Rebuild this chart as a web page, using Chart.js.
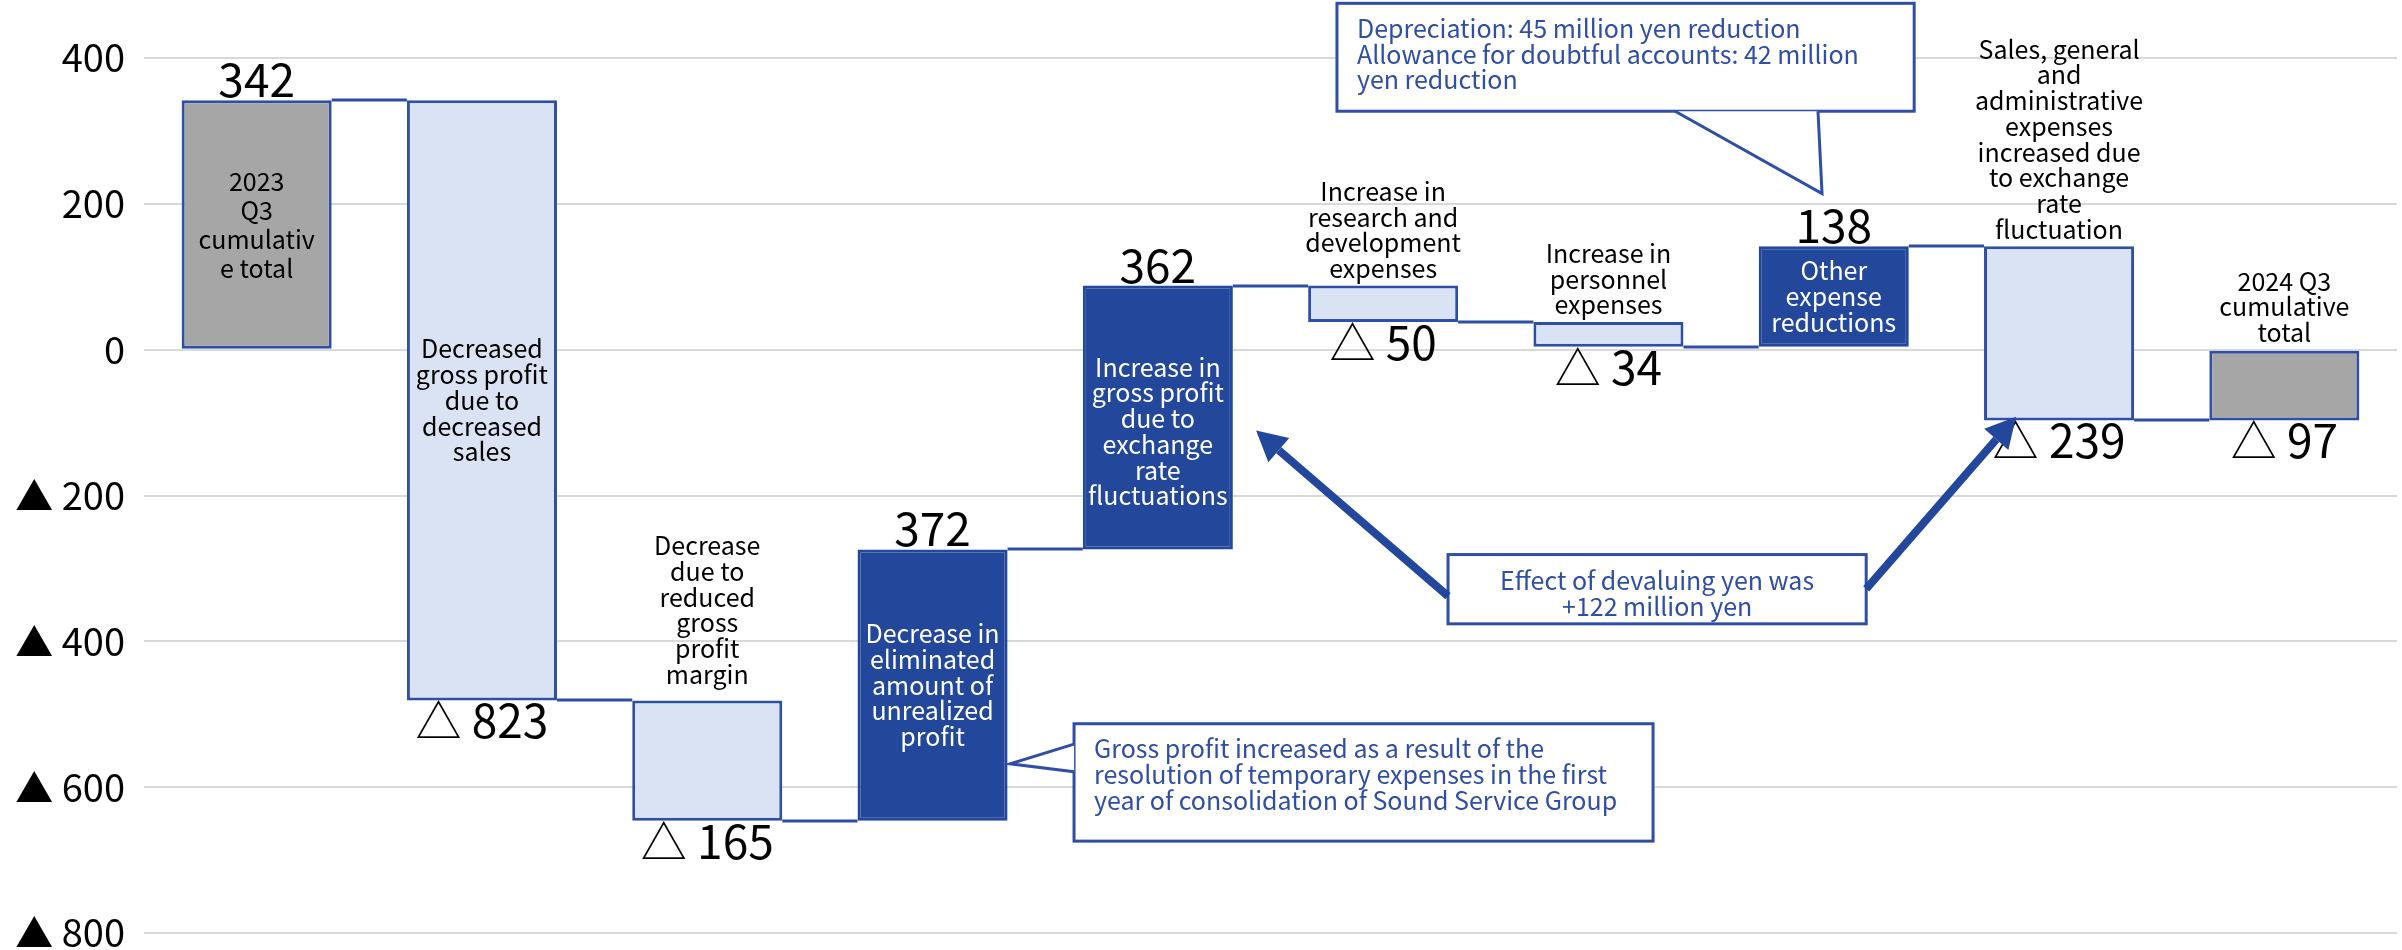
<!DOCTYPE html>
<html lang="en">
<head>
<meta charset="UTF-8">
<title>Operating profit bridge</title>
<script src="https://cdn.jsdelivr.net/npm/chart.js@4"></script>
<style>
    html, body { margin: 0; padding: 0; background: #ffffff; overflow: hidden; }
    .chart-container { position: relative; width: 2402px; height: 950px; }
    canvas { display: block; }
</style>
</head>
<body>
<div class="chart-container">
    <canvas id="bridgeChart"></canvas>
</div>
<script>
// bar captions, one entry per line
const categories = [
    ['2023', 'Q3', 'cumulativ', 'e total'],
    ['Decreased', 'gross profit', 'due to', 'decreased', 'sales'],
    ['Decrease', 'due to', 'reduced', 'gross', 'profit', 'margin'],
    ['Decrease in', 'eliminated', 'amount of', 'unrealized', 'profit'],
    ['Increase in', 'gross profit', 'due to', 'exchange', 'rate', 'fluctuations'],
    ['Increase in', 'research and', 'development', 'expenses'],
    ['Increase in', 'personnel', 'expenses'],
    ['Other', 'expense', 'reductions'],
    ['Sales, general', 'and', 'administrative', 'expenses', 'increased due', 'to exchange', 'rate', 'fluctuation'],
    ['2024 Q3', 'cumulative', 'total']
];
const captionPlace = ['in', 'in', 'above', 'in', 'in', 'above', 'above', 'in', 'above', 'above'];

// million yen
const changes = [342, -823, -165, 372, 362, -50, -34, 138, -239, -97];
const kinds = ['total', 'step', 'step', 'step', 'step', 'step', 'step', 'step', 'step', 'total'];

const yMin = -800;
const yMax = 400;
const yStep = 200;

const FONT = '"Noto Sans CJK JP", "Noto Sans", sans-serif';
const BLUE_LINE = '#2f4ea6';
const BLUE_DARK = '#22479b';
const BLUE_LIGHT = '#dae3f3';
const GREY = '#a6a6a6';

// floating [from, to] ranges for the waterfall
let running = 0;
const ranges = changes.map((v, i) => {
    if (kinds[i] === 'total') { running = v; return [0, v]; }
    const from = running;
    running += v;
    return [from, running];
});

const fillColors = changes.map((v, i) => kinds[i] === 'total' ? GREY : (v < 0 ? BLUE_LIGHT : BLUE_DARK));
const edgeColors = changes.map((v, i) => (kinds[i] === 'step' && v > 0) ? BLUE_DARK : BLUE_LINE);

function fmt(v) {
    return v < 0 ? '\u25B3 ' + (-v) : String(v);
}

// callouts, x in category units, y in million yen
const notes = [
    {
        box: [4.795, 475, 7.357, 327],
        pointer: [[6.296, 327], [6.948, 214], [6.93, 327]],
        lines: ['Depreciation: 45 million yen reduction', 'Allowance for doubtful accounts: 42 million', 'yen reduction'],
        align: 'left'
    },
    {
        box: [5.288, -281, 7.144, -376],
        lines: ['Effect of devaluing yen was', '+122 million yen'],
        align: 'center'
    },
    {
        box: [3.628, -513, 6.198, -674],
        pointer: [[3.628, -541], [3.344, -568], [3.628, -579]],
        lines: ['Gross profit increased as a result of the', 'resolution of temporary expenses in the first', 'year of consolidation of Sound Service Group'],
        align: 'left'
    }
];
const arrows = [
    [[5.288, -338], [4.436, -111]],
    [[7.144, -328], [7.809, -92]]
];

const bridgePlugin = {
    id: 'bridge',
    afterDatasetsDraw(chart) {
        const ctx = chart.ctx;
        const meta = chart.getDatasetMeta(0);
        const xs = chart.scales.x;
        const ys = chart.scales.y;
        const x0 = xs.getPixelForValue(0);
        const stepX = xs.getPixelForValue(1) - x0;
        const px = v => x0 + v * stepX;
        const py = v => ys.getPixelForValue(v);

        ctx.save();
        // connectors
        ctx.strokeStyle = BLUE_LINE;
        ctx.lineWidth = 3;
        for (let i = 0; i < meta.data.length - 1; i++) {
            const a = meta.data[i], b = meta.data[i + 1];
            const y = Math.round(py(ranges[i][1]));
            ctx.beginPath();
            ctx.moveTo(a.x + a.width / 2, y);
            ctx.lineTo(b.x - b.width / 2, y);
            ctx.stroke();
        }

        // value labels
        ctx.fillStyle = '#000';
        ctx.textAlign = 'center';
        ctx.textBaseline = 'alphabetic';
        ctx.font = '46px ' + FONT;
        meta.data.forEach((bar, i) => {
            const v = changes[i];
            const top = py(Math.max(ranges[i][0], ranges[i][1]));
            const bottom = py(Math.min(ranges[i][0], ranges[i][1]));
            if (v >= 0) {
                ctx.fillText(fmt(v), bar.x, top - 3);
            } else {
                ctx.fillText(fmt(v), bar.x, bottom + 38);
            }
        });

        // captions
        ctx.font = '25px ' + FONT;
        ctx.textBaseline = 'middle';
        meta.data.forEach((bar, i) => {
            const lines = categories[i];
            const lh = i === 0 ? 28.8 : 25.7;
            const top = py(Math.max(ranges[i][0], ranges[i][1]));
            const bottom = py(Math.min(ranges[i][0], ranges[i][1]));
            let firstY;
            if (captionPlace[i] === 'in') {
                const mid = (top + bottom) / 2 + (i === 4 ? 14 : 0);
                firstY = mid - (lines.length - 1) * lh / 2;
                ctx.fillStyle = (kinds[i] === 'step' && changes[i] > 0) ? '#ffffff' : '#000000';
            } else {
                const gap = i === 2 ? 26 : 17;
                firstY = top - gap - (lines.length - 1) * lh;
                ctx.fillStyle = '#000000';
            }
            lines.forEach((t, k) => ctx.fillText(t, bar.x, firstY + k * lh));
        });

        // callout boxes
        ctx.lineWidth = 3;
        ctx.strokeStyle = BLUE_LINE;
        notes.forEach(n => {
            const l = px(n.box[0]), t = py(n.box[1]), r = px(n.box[2]), b = py(n.box[3]);
            ctx.fillStyle = '#ffffff';
            ctx.fillRect(l, t, r - l, b - t);
            ctx.strokeRect(l, t, r - l, b - t);
            if (n.pointer) {
                const p = n.pointer.map(q => [px(q[0]), py(q[1])]);
                ctx.beginPath();
                ctx.moveTo(p[0][0], p[0][1]);
                ctx.lineTo(p[1][0], p[1][1]);
                ctx.lineTo(p[2][0], p[2][1]);
                ctx.fill();
                ctx.stroke();
            }
            ctx.fillStyle = BLUE_LINE;
            ctx.font = '25px ' + FONT;
            ctx.textBaseline = 'middle';
            ctx.textAlign = n.align;
            const tx = n.align === 'center' ? (l + r) / 2 : l + 20;
            const ty = n.align === 'center' ? t + 26 : t + 25;
            n.lines.forEach((s, k) => ctx.fillText(s, tx, ty + k * 25.8));
        });

        // arrows
        ctx.strokeStyle = BLUE_DARK;
        ctx.fillStyle = BLUE_DARK;
        ctx.lineWidth = 8;
        arrows.forEach(a => {
            const x1 = px(a[0][0]), y1 = py(a[0][1]);
            const x2 = px(a[1][0]), y2 = py(a[1][1]);
            const ang = Math.atan2(y2 - y1, x2 - x1);
            const len = 30, half = 16;
            const bx = x2 - len * Math.cos(ang), by = y2 - len * Math.sin(ang);
            ctx.beginPath();
            ctx.moveTo(x1, y1);
            ctx.lineTo(bx, by);
            ctx.stroke();
            ctx.beginPath();
            ctx.moveTo(x2, y2);
            ctx.lineTo(bx + half * Math.sin(ang), by - half * Math.cos(ang));
            ctx.lineTo(bx - half * Math.sin(ang), by + half * Math.cos(ang));
            ctx.closePath();
            ctx.fill();
        });
        ctx.restore();
    }
};

const ctx = document.getElementById('bridgeChart').getContext('2d');
new Chart(ctx, {
    type: 'bar',
    data: {
        labels: categories,
        datasets: [{
            data: ranges,
            backgroundColor: fillColors,
            borderColor: edgeColors,
            borderWidth: 3,
            borderSkipped: false,
            categoryPercentage: 1,
            barPercentage: 0.666
        }]
    },
    options: {
        responsive: true,
        maintainAspectRatio: false,
        animation: false,
        layout: { padding: { top: 58, bottom: 17, left: 0, right: 5 } },
        plugins: {
            legend: { display: false },
            tooltip: { enabled: false }
        },
        scales: {
            x: { display: false },
            y: {
                min: yMin,
                max: yMax,
                border: { display: false },
                grid: { color: '#d9d9d9', lineWidth: 2, drawTicks: false },
                ticks: {
                    stepSize: yStep,
                    padding: 19,
                    color: '#000',
                    font: { family: FONT, size: 38, lineHeight: 0.9 },
                    callback: v => v < 0 ? '\u25B2 ' + (-v) : String(v)
                },
                afterFit(scale) {
                    scale.width = 144;
                    // let layout padding decide the vertical extent
                    scale.paddingTop = 0;
                    scale.paddingBottom = 0;
                }
            }
        }
    },
    plugins: [bridgePlugin]
});
</script>
</body>
</html>
